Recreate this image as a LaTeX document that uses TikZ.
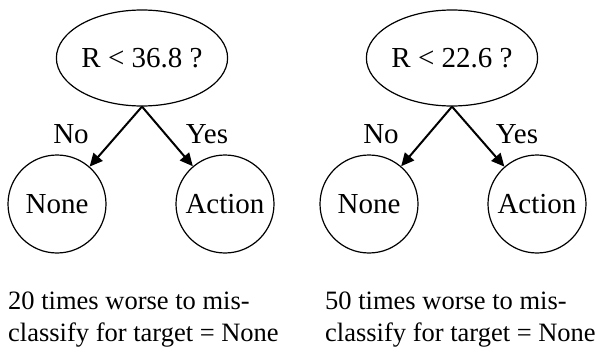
\documentclass[tikz,border=0pt]{standalone}
\usepackage{fontspec}
\setmainfont{Liberation Serif}
\usetikzlibrary{arrows.meta,shapes.geometric}

\tikzset{
  test/.style={draw,ellipse,line width=1.2pt,minimum width=168pt,minimum height=96pt,inner sep=0pt},
  leaf/.style={draw,circle,line width=1.2pt,minimum size=98pt,inner sep=0pt},
  branch/.style={-{Triangle[length=13pt,width=12pt]},line width=2pt},
  note/.style={align=left,inner sep=0pt,anchor=base west,font=\fontsize{26.5}{32}\selectfont}
}

\begin{document}
\begin{tikzpicture}[x=1pt,y=1pt,font=\fontsize{29}{35}\selectfont]
  \useasboundingbox (0,0) rectangle (603,349);
  % first tree
  \node[test] (q1) at (142,291) {R < 36.8 ?};
  \node[leaf] (none1) at (57,145) {None};
  \node[leaf] (act1) at (225,145) {Action};
  \draw[branch] (q1.south) -- (none1);
  \draw[branch] (q1.south) -- (act1);
  \node (no1) at (71,215) {No};
  \node (yes1) at (207,215) {Yes};
  % second tree
  \node[test] (q2) at (452,291) {R < 22.6 ?};
  \node[leaf] (none2) at (369,145) {None};
  \node[leaf] (act2) at (537,145) {Action};
  \draw[branch] (q2.south) -- (none2);
  \draw[branch] (q2.south) -- (act2);
  \node (no2) at (381,215) {No};
  \node (yes2) at (517,215) {Yes};
  % costs (base anchor sits on the last line)
  \node[note] (cost1) at (8,8) {20 times worse to mis-\\classify for target = None};
  \node[note] (cost2) at (325,8) {50 times worse to mis-\\classify for target = None};
\end{tikzpicture}
\end{document}
